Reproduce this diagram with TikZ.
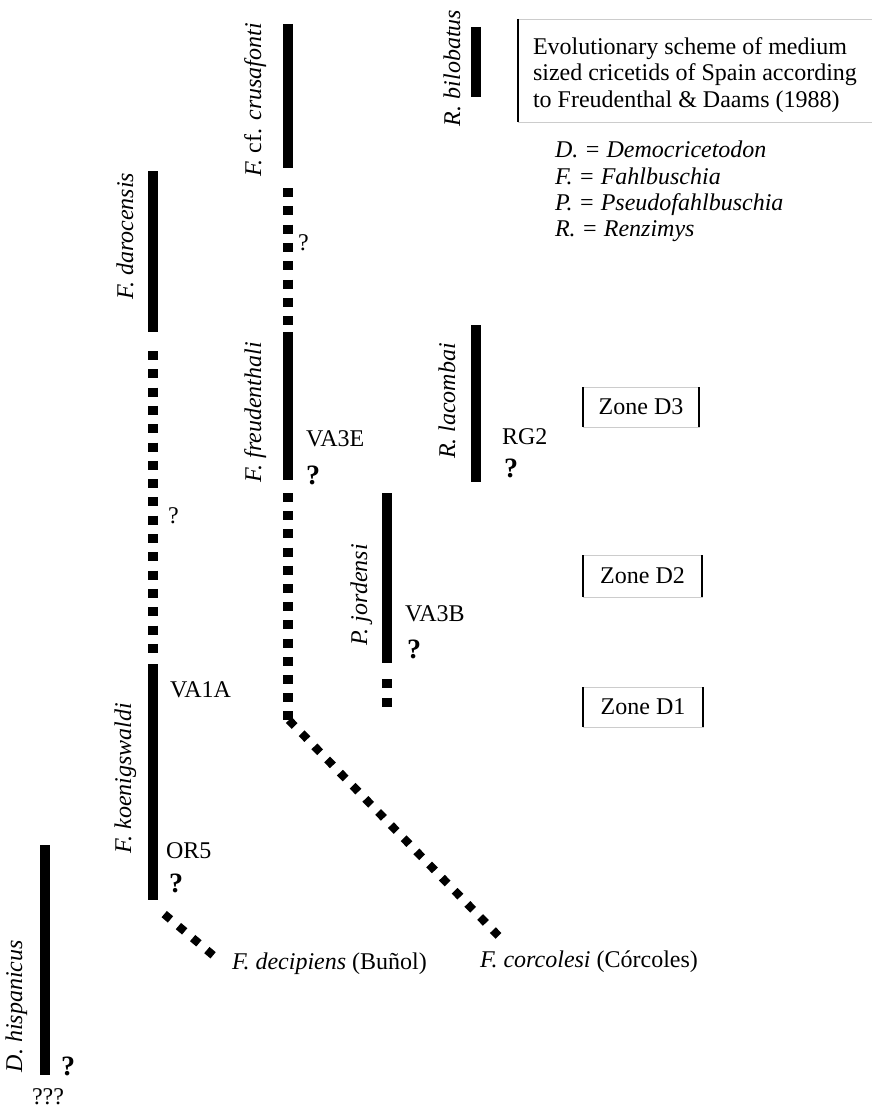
\documentclass[tikz,border=0pt]{standalone}
\usepackage{fontspec}
\setmainfont{Liberation Serif}
\begin{document}
\begin{tikzpicture}[x=1pt,y=-1pt,
  bar/.style={line width=10pt},
  vdash/.style={line width=10pt, dash pattern=on 9pt off 9.3pt},
  ddash/.style={line width=8.2pt, dash pattern=on 8.2pt off 10.1pt},
  lbl/.style={font=\fontsize{24}{27}\selectfont, inner sep=0pt, outer sep=0pt},
  taxon/.style={lbl, rotate=90, anchor=base},
  site/.style={lbl, anchor=base west},
  bq/.style={font=\fontsize{28}{30}\selectfont\bfseries, inner sep=0pt, anchor=base},
  sq/.style={lbl, anchor=base west},
  zonebox/.style={lbl, draw=gray!40, line width=0.8pt, minimum height=40pt},
  zside/.style={line width=1.6pt},
  frame/.style={draw=gray!40, line width=0.8pt},
]
\useasboundingbox (0,0) rectangle (872,1108);

% ---------- bar end coordinates ----------
\coordinate (bil1) at (476,27);   \coordinate (bil2) at (476,97);
\coordinate (cru1) at (288,24);   \coordinate (cru2) at (288,168);
\coordinate (cruD1) at (288,188); \coordinate (cruD2) at (288,327);
\coordinate (fre1) at (288,332);  \coordinate (fre2) at (288,480);
\coordinate (freD1) at (288,493); \coordinate (freD2) at (288,720);
\coordinate (cor1) at (288.9,720.1); \coordinate (cor2) at (498.5,935.9);
\coordinate (dar1) at (153,171);  \coordinate (dar2) at (153,332);
\coordinate (darD1) at (153,351); \coordinate (darD2) at (153,653);
\coordinate (koe1) at (153,664);  \coordinate (koe2) at (153,900);
\coordinate (dec1) at (164.2,914.1); \coordinate (dec2) at (213.1,955.3);
\coordinate (lac1) at (476,325);  \coordinate (lac2) at (476,482);
\coordinate (jor1) at (387,493);  \coordinate (jor2) at (387,663);
\coordinate (jorD1) at (387,679); \coordinate (jorD2) at (387,707);
\coordinate (his1) at (45,845);   \coordinate (his2) at (45,1075);

% ---------- bars ----------
\draw[bar] (bil1) -- (bil2);
\draw[bar] (cru1) -- (cru2);
\draw[vdash] (cruD1) -- (cruD2);
\draw[bar] (fre1) -- (fre2);
\draw[vdash, dash pattern=on 9pt off 9.2pt] (freD1) -- (freD2);
\draw[ddash] (cor1) -- (cor2);
\draw[bar] (dar1) -- (dar2);
\draw[vdash] (darD1) -- (darD2);
\draw[bar] (koe1) -- (koe2);
\draw[ddash, dash pattern=on 8.2pt off 10.4pt] (dec1) -- (dec2);
\draw[bar] (lac1) -- (lac2);
\draw[bar] (jor1) -- (jor2);
\draw[vdash, dash pattern=on 9pt off 9.5pt] (jorD1) -- (jorD2);
\draw[bar] (his1) -- (his2);

% ---------- taxon names ----------
\node[taxon] (tbil) at (460,68) {\textit{R. bilobatus}};
\node[taxon] (tcru) at (261,100) {\textit{F.} cf. \textit{crusafonti}};
\node[taxon] (tdar) at (133,236) {\textit{F. darocensis}};
\node[taxon] (tfre) at (261,412) {\textit{F. freudenthali}};
\node[taxon] (tlac) at (455,401) {\textit{R. lacombai}};
\node[taxon] (tjor) at (367,595) {\textit{P. jordensi}};
\node[taxon] (tkoe) at (131,778) {\textit{F. koenigswaldi}};
\node[taxon] (this) at (22,1006) {\textit{D. hispanicus}};

\node[lbl, anchor=base west] (tdec) at (232,969) {\textit{F. decipiens} (Buñol)};
\node[lbl, anchor=base west] (tcor) at (480,967) {\textit{F. corcolesi} (Córcoles)};

% ---------- localities ----------
\node[site] (va3e) at (306,446) {VA3E};
\node[site] (rg2)  at (502,444) {RG2};
\node[site] (va3b) at (405,621) {VA3B};
\node[site] (va1a) at (170,697) {VA1A};
\node[site] (or5)  at (166,858) {OR5};

% ---------- question marks ----------
\node[bq] (q1) at (313,484) {?};
\node[bq] (q2) at (511,477) {?};
\node[bq] (q3) at (414,658) {?};
\node[bq] (q4) at (176,892) {?};
\node[bq] (q5) at (68,1075) {?};
\node[sq] (q6) at (298,250) {?};
\node[sq] (q7) at (168,523) {?};
\node[lbl, anchor=base] (q8) at (48,1104) {???};

% ---------- title box ----------
\coordinate (tbA) at (518,19);  \coordinate (tbB) at (518,122);
\coordinate (tbC) at (872,19);  \coordinate (tbD) at (872,122);
\draw[frame] (tbA) -- (tbC);
\draw[frame] (tbB) -- (tbD);
\draw[zside] (tbA) -- (tbB);
\node[lbl, anchor=base west] (ttl1) at (533,54.5) {Evolutionary scheme of medium};
\node[lbl, anchor=base west] (ttl2) at (533,80.8) {sized cricetids of Spain according};
\node[lbl, anchor=base west] (ttl3) at (533,107) {to Freudenthal \& Daams (1988)};

% ---------- legend ----------
\node[lbl, anchor=base west] (lg1) at (555,157) {\textit{D. = Democricetodon}};
\node[lbl, anchor=base west] (lg2) at (555,184) {\textit{F. = Fahlbuschia}};
\node[lbl, anchor=base west] (lg3) at (555,210) {\textit{P. = Pseudofahlbuschia}};
\node[lbl, anchor=base west] (lg4) at (555,236) {\textit{R. = Renzimys}};

% ---------- zones ----------
\node[zonebox, minimum width=116pt] (z3) at (641,407) {Zone D3};
\node[zonebox, minimum width=119pt, minimum height=42pt] (z2) at (642.5,576) {Zone D2};
\node[zonebox, minimum width=120pt] (z1) at (643,707) {Zone D1};
\foreach \z in {z3,z2,z1}{
  \draw[zside] (\z.north west) -- (\z.south west);
  \draw[zside] (\z.north east) -- (\z.south east);
}
\end{tikzpicture}
\end{document}
